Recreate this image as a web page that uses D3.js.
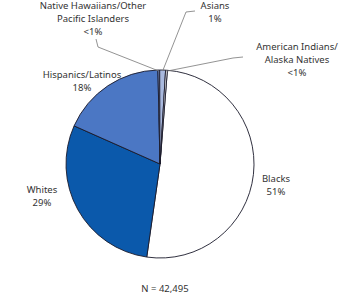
<!DOCTYPE html>
<html>
<head>
<meta charset="utf-8">
<script src="https://cdn.jsdelivr.net/npm/d3@7"></script>
<style>
  body { margin: 0; background: #fff; }
  text { font-family: "Noto Sans", sans-serif; font-size: 9.5px; fill: #333; }
</style>
</head>
<body>
<svg id="chart" width="360" height="296"></svg>
<script>
// data
const groups = ["Blacks", "Whites", "Hispanics/Latinos", "Native Hawaiians/Other Pacific Islanders", "Asians", "American Indians/Alaska Natives"];
const shares = [51, 29.4, 18, 0.3, 1.0, 0.3];
const shareLabels = ["51%", "29%", "18%", "<1%", "1%", "<1%"];
const labelLines = [
  ["Blacks"],
  ["Whites"],
  ["Hispanics/Latinos"],
  ["Native Hawaiians/Other", "Pacific Islanders"],
  ["Asians"],
  ["American Indians/", "Alaska Natives"]
];
const totalN = "N = 42,495";

const colors = ["#ffffff", "#0b59ab", "#4b77c4", "#7d9ad6", "#a9b9de", "#ffffff"];

// layout
const svg = d3.select("#chart"),
  cx = 160, cy = 164, radius = 94,
  start = 4.5 * Math.PI / 180;

// label anchors (centre of first line) and leader elbows
const labelPos = [
  { x: 276, y: 182 },
  { x: 42, y: 193 },
  { x: 82, y: 78 },
  { x: 93, y: 9 },
  { x: 215, y: 9 },
  { x: 297, y: 50 }
];
const leaders = [
  null, null, null,
  [[96, 39], [98, 47]],
  [[195, 11], [186, 12]],
  [[243, 57], [233, 58]]
];

const pie = d3.pie().sort(null).value(d => d).startAngle(start).endAngle(start + 2 * Math.PI);
const arcs = pie(shares);
const arc = d3.arc().innerRadius(0).outerRadius(radius);

const g = svg.append("g").attr("transform", `translate(${cx},${cy})`);

g.selectAll("path.slice")
  .data(arcs)
  .enter().append("path")
  .attr("class", "slice")
  .attr("d", arc)
  .attr("fill", (d, i) => colors[i])
  .attr("stroke", "#1a1a2a")
  .attr("stroke-width", 0.9)
  .attr("stroke-linejoin", "round");

// leader lines to the thin slices
arcs.forEach((d, i) => {
  if (!leaders[i]) return;
  const a = (d.startAngle + d.endAngle) / 2;
  const edge = [cx + Math.sin(a) * (radius - 1), cy - Math.cos(a) * (radius - 1)];
  const pts = leaders[i].concat([edge]);
  svg.append("path")
    .attr("d", d3.line()(pts))
    .attr("fill", "none")
    .attr("stroke", "#777")
    .attr("stroke-width", 0.8);
});

// labels
labelPos.forEach((p, i) => {
  const lines = labelLines[i].concat([shareLabels[i]]);
  const t = svg.append("text")
    .attr("text-anchor", "middle")
    .attr("x", p.x).attr("y", p.y);
  lines.forEach((l, j) => {
    t.append("tspan")
      .attr("x", p.x)
      .attr("dy", j === 0 ? 0 : 13)
      .text(l);
  });
});

svg.append("text")
  .attr("x", 165).attr("y", 292)
  .attr("text-anchor", "middle")
  .text(totalN);
</script>
</body>
</html>
